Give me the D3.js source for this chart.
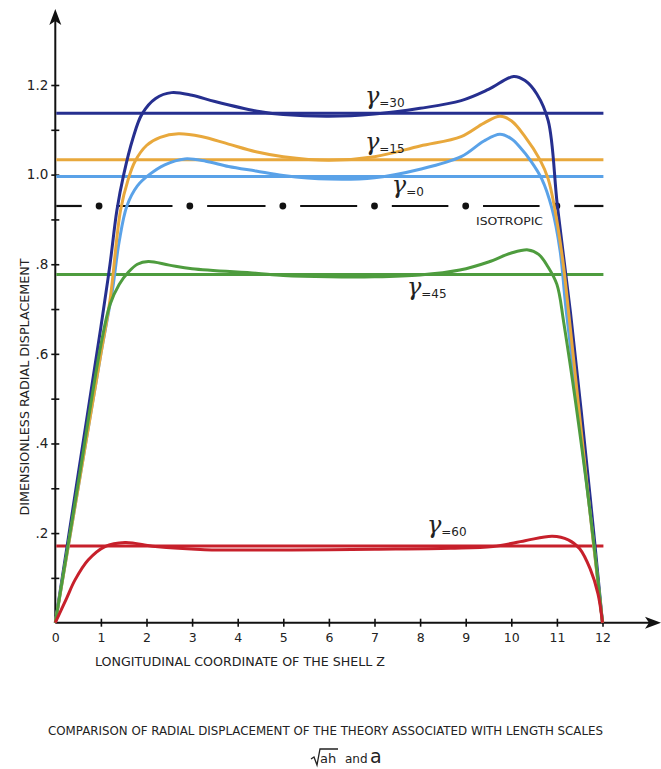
<!DOCTYPE html>
<html>
<head>
<meta charset="utf-8">
<script src="https://cdn.jsdelivr.net/npm/d3@7"></script>
<style>
  body { margin: 0; background: #fff; }
  text { font-family: "DejaVu Sans", sans-serif; fill: #222; }
</style>
</head>
<body>
<script>
// values: [z, displacement]
const gamma30 = [[0,0],[0.5,0.33],[1.0,0.66],[1.2,0.8],[1.35,0.92],[1.5,1.0],[1.7,1.08],[1.9,1.135],[2.2,1.17],[2.55,1.183],[3.0,1.177],[3.5,1.163],[4.4,1.142],[5.0,1.134],[6.0,1.13],[7.0,1.135],[8.0,1.148],[8.9,1.165],[9.5,1.19],[10.05,1.219],[10.3,1.21],[10.56,1.18],[10.81,1.12],[11.01,0.931],[11.3,0.69],[11.73,0.28],[12,0]];
const gamma15 = [[0,0],[0.5,0.3],[1.0,0.6],[1.2,0.72],[1.43,0.92],[1.6,0.99],[1.75,1.03],[2.0,1.065],[2.3,1.083],[2.7,1.091],[3.2,1.085],[3.8,1.068],[4.4,1.051],[5.0,1.04],[6.0,1.032],[7.0,1.04],[8.0,1.064],[8.9,1.085],[9.4,1.115],[9.75,1.13],[10.0,1.12],[10.3,1.085],[10.63,1.033],[10.81,0.99],[10.96,0.92],[11.14,0.8],[11.25,0.7],[11.7,0.27],[12,0]];
const gamma0 = [[0,0],[0.5,0.3],[1.0,0.6],[1.25,0.74],[1.4,0.85],[1.57,0.93],[1.8,0.975],[2.06,1.0],[2.4,1.022],[2.84,1.035],[3.3,1.03],[3.8,1.018],[4.4,1.008],[5.0,0.998],[6.0,0.99],[7.0,0.993],[8.0,1.012],[8.9,1.04],[9.4,1.075],[9.75,1.09],[10.0,1.08],[10.2,1.06],[10.41,1.033],[10.67,0.99],[10.89,0.925],[11.07,0.83],[11.2,0.7],[11.7,0.27],[12,0]];
const gamma45 = [[0,0],[0.5,0.31],[1.0,0.62],[1.2,0.71],[1.4,0.755],[1.6,0.782],[1.8,0.8],[2.04,0.806],[2.5,0.798],[3.0,0.79],[4.4,0.78],[5.0,0.775],[6.0,0.772],[7.0,0.772],[8.0,0.776],[8.87,0.787],[9.5,0.805],[10.0,0.825],[10.37,0.832],[10.6,0.822],[10.8,0.795],[11.0,0.755],[11.15,0.67],[11.7,0.27],[12,0]];
const gamma60 = [[0,0],[0.25,0.055],[0.43,0.095],[0.72,0.14],[1.09,0.17],[1.53,0.179],[2.19,0.17],[3.28,0.163],[4.4,0.162],[6.0,0.163],[7.0,0.164],[8.66,0.166],[9.6,0.17],[10.3,0.183],[10.9,0.193],[11.25,0.185],[11.5,0.165],[11.73,0.12],[11.9,0.065],[12,0]];

// constant (reference) levels
const levelNames = ['30', '15', '0', '45', '60'];
const levelValues = [1.137, 1.033, 0.996, 0.777, 0.171];
const isotropicValue = 0.93;
const isotropicDots = [0.96, 2.95, 4.99, 7.0, 9.0, 11.0];

const xTicks = d3.range(0, 13);
const yMajor = [0.2, 0.4, 0.6, 0.8, 1.0, 1.2];
const yMinor = [0.1, 0.3, 0.5, 0.7, 0.9, 1.1];

const colors = {'30': '#262f8f', '15': '#e8a83c', '0': '#5aa2e8', '45': '#4e9c3e', '60': '#c7202b'};
const curves = {'30': gamma30, '15': gamma15, '0': gamma0, '45': gamma45, '60': gamma60};

const svg = d3.select('body').append('svg')
    .attr('width', 661)
    .attr('height', 769);

const x = d3.scaleLinear().domain([0, 12]).range([55.3, 602.5]);
const y = d3.scaleLinear().domain([0, 1.2]).range([622.7, 85]);

// axes
const gx = svg.append('g')
    .attr('transform', `translate(0,${y(0)})`)
    .call(d3.axisBottom(x).tickValues(xTicks).tickSize(4).tickPadding(6).tickSizeOuter(0));
gx.select('.domain').remove();
gx.selectAll('.tick line').attr('y1', -4).attr('y2', 4).attr('stroke', '#111').attr('stroke-width', 1.6)
    .filter(d => d === 0).remove();
gx.selectAll('.tick text').attr('font-size', 12.5).attr('font-family', 'DejaVu Sans').attr('fill', '#222');

const gy = svg.append('g')
    .attr('transform', `translate(${x(0)},0)`)
    .call(d3.axisLeft(y).tickValues(yMajor).tickSize(4).tickPadding(3)
        .tickFormat(d => d >= 1 ? d.toFixed(1) : d.toFixed(1).slice(1)));
gy.select('.domain').remove();
gy.selectAll('.tick line').attr('x1', -4).attr('x2', 4).attr('stroke', '#111').attr('stroke-width', 1.6);
gy.selectAll('.tick text').attr('font-size', 13.5).attr('font-family', 'DejaVu Sans').attr('fill', '#222');

const gyMinor = svg.append('g')
    .attr('transform', `translate(${x(0)},0)`)
    .call(d3.axisLeft(y).tickValues(yMinor).tickSize(4).tickFormat(''));
gyMinor.select('.domain').remove();
gyMinor.selectAll('.tick line').attr('x1', -4).attr('x2', 4).attr('stroke', '#111').attr('stroke-width', 1.6);

// axis lines with arrow heads
svg.append('line').attr('x1', x(0)).attr('x2', x(0)).attr('y1', y(0)).attr('y2', 20)
    .attr('stroke', '#111').attr('stroke-width', 2);
svg.append('path').attr('d', `M${x(0)},9 L${x(0) - 6},25 L${x(0)},21 L${x(0) + 6},25 Z`).attr('fill', '#111');
svg.append('line').attr('x1', x(0)).attr('x2', 650).attr('y1', y(0)).attr('y2', y(0))
    .attr('stroke', '#111').attr('stroke-width', 2);
svg.append('path').attr('d', `M661,${y(0)} L645,${y(0) - 6} L649,${y(0)} L645,${y(0) + 6} Z`).attr('fill', '#111');

// horizontal levels
svg.append('g').selectAll('line')
    .data(levelNames)
    .join('line')
    .attr('x1', x(0) + 1).attr('x2', x(12.02))
    .attr('y1', (d, i) => y(levelValues[i])).attr('y2', (d, i) => y(levelValues[i]))
    .attr('stroke', d => colors[d]).attr('stroke-width', 3);

// isotropic dash-dot
const gap = 0.38;
const dashes = [[0, isotropicDots[0] - gap]];
isotropicDots.forEach((d, i) => {
    const end = i < isotropicDots.length - 1 ? isotropicDots[i + 1] - gap : 12.02;
    dashes.push([d + gap, end]);
});
const iso = svg.append('g');
iso.selectAll('line').data(dashes).join('line')
    .attr('x1', d => x(d[0]) + (d[0] === 0 ? 1 : 0)).attr('x2', d => x(d[1]))
    .attr('y1', y(isotropicValue)).attr('y2', y(isotropicValue))
    .attr('stroke', '#111').attr('stroke-width', 2.2);
iso.selectAll('circle').data(isotropicDots).join('circle')
    .attr('cx', d => x(d)).attr('cy', y(isotropicValue)).attr('r', 3.4).attr('fill', '#111');

// curves
const line = d3.line()
    .x(d => x(d[0]))
    .y(d => y(d[1]))
    .curve(d3.curveCatmullRom.alpha(0.5));

svg.append('g').selectAll('path')
    .data(['30', '0', '15', '45', '60'])
    .join('path')
    .attr('d', d => line(curves[d]))
    .attr('fill', 'none')
    .attr('stroke', d => colors[d])
    .attr('stroke-width', 3)
    .attr('stroke-linejoin', 'round');

// gamma labels: [z, value] of the gamma glyph's baseline
const labelSpots = {'30': [6.79, 1.158], '15': [6.79, 1.055], '0': [7.38, 0.959], '45': [7.71, 0.731], '60': [8.15, 0.2]};
const lab = svg.append('g').selectAll('text')
    .data(levelNames)
    .join('text')
    .attr('x', d => x(labelSpots[d][0]))
    .attr('y', d => y(labelSpots[d][1]));
lab.append('tspan')
    .attr('font-family', 'DejaVu Serif, serif').attr('font-style', 'italic').attr('font-size', 24)
    .text('γ');
lab.append('tspan')
    .attr('font-size', 12).attr('dy', 3).attr('dx', 0)
    .text(d => '=' + d);

svg.append('text')
    .attr('x', 476).attr('y', y(isotropicValue) + 19)
    .attr('font-size', 11).attr('textLength', 67).attr('lengthAdjust', 'spacingAndGlyphs')
    .text('ISOTROPIC');

// axis titles
svg.append('text')
    .attr('transform', `translate(29,${387}) rotate(-90)`)
    .attr('text-anchor', 'middle')
    .attr('font-size', 12.5).attr('textLength', 257).attr('lengthAdjust', 'spacingAndGlyphs')
    .text('DIMENSIONLESS RADIAL DISPLACEMENT');

svg.append('text')
    .attr('x', 95).attr('y', 666)
    .attr('font-size', 12.5).attr('textLength', 290).attr('lengthAdjust', 'spacingAndGlyphs')
    .text('LONGITUDINAL COORDINATE OF THE SHELL Z');

// caption
svg.append('text')
    .attr('x', 48).attr('y', 735)
    .attr('font-size', 13).attr('textLength', 555).attr('lengthAdjust', 'spacingAndGlyphs')
    .text('COMPARISON OF RADIAL DISPLACEMENT OF THE THEORY ASSOCIATED WITH LENGTH SCALES');

const cap2 = svg.append('g');
cap2.append('path')
    .attr('d', 'M311,759 L314,757 L317,765 L320,749 L338,749')
    .attr('fill', 'none').attr('stroke', '#222').attr('stroke-width', 1.3);
cap2.append('text').attr('x', 320).attr('y', 763).attr('font-size', 13).text('ah');
cap2.append('text').attr('x', 345).attr('y', 763).attr('font-size', 12).text('and');
cap2.append('text').attr('x', 370).attr('y', 763).attr('font-size', 19).text('a');
</script>
</body>
</html>
